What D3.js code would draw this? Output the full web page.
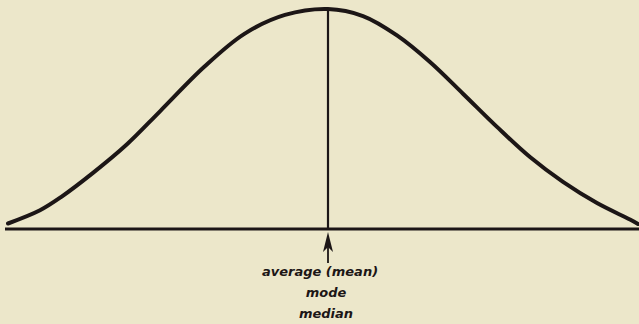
<!DOCTYPE html>
<html>
<head>
<meta charset="utf-8">
<script src="https://cdn.jsdelivr.net/npm/d3@7"></script>
<style>
  html, body { margin: 0; padding: 0; background: #ece7ca; }
  svg { display: block; }
</style>
</head>
<body>
<svg id="chart" width="639" height="324"></svg>
<script>
// Normal (bell-shaped) distribution: position in standard deviations from the mean
const scores  = [-3.20, -2.88, -2.67, -2.35, -2.01, -1.68, -1.24, -0.84, -0.43, 0,
                  0.35,  0.69,  1.02,  1.35,  1.69,  2.02,  2.35,  2.69,  3.02, 3.10];
// Relative frequency, as a percentage of the peak
const heights = [2.5, 8.5, 14.5, 25.5, 38.5, 53.5, 73.6, 88.6, 97.3, 100,
                 96.8, 88.0, 75.9, 61.5, 46.4, 32.7, 21.4, 11.8, 4.3, 2.3];
// Where the mean, mode and median coincide
const centreScore = 0;
const centreLabels = ["average (mean)", "mode", "median"];

const ink = "#1c1616";
const svg = d3.select("#chart");

const x = d3.scaleLinear().domain([-3.2, 3.1]).range([8, 638]);
const y = d3.scaleLinear().domain([0, 100]).range([229, 9]);

const points = scores.map((s, i) => ({ s, h: heights[i] }));

// horizontal axis line
svg.append("line")
  .attr("x1", 5).attr("x2", 639)
  .attr("y1", y(0)).attr("y2", y(0))
  .attr("stroke", ink).attr("stroke-width", 3);

// the bell curve
svg.append("path")
  .datum(points)
  .attr("d", d3.line().x(d => x(d.s)).y(d => y(d.h)).curve(d3.curveCatmullRom.alpha(0.5)))
  .attr("fill", "none")
  .attr("stroke", ink)
  .attr("stroke-width", 4)
  .attr("stroke-linecap", "round");

// centre line from the peak down to the axis
const cx = x(centreScore);
svg.append("line")
  .attr("x1", cx).attr("x2", cx)
  .attr("y1", y(100)).attr("y2", y(0))
  .attr("stroke", ink).attr("stroke-width", 2.2);

// arrow pointing up at the centre
const tip = y(0) + 3;
svg.append("line")
  .attr("x1", cx).attr("x2", cx)
  .attr("y1", tip + 10).attr("y2", tip + 31)
  .attr("stroke", ink).attr("stroke-width", 1.8);
svg.append("path")
  .attr("d", d3.line()([[cx, tip], [cx + 5, tip + 20], [cx, tip + 15], [cx - 5, tip + 20]]) + "Z")
  .attr("fill", ink);

// labels under the arrow
const labelX = [320, 326, 326];
const labelY = [276, 297, 318];
svg.selectAll("text.label")
  .data(centreLabels)
  .join("text")
  .attr("class", "label")
  .attr("x", (d, i) => labelX[i])
  .attr("y", (d, i) => labelY[i])
  .attr("text-anchor", "middle")
  .attr("font-family", "DejaVu Sans")
  .attr("font-weight", "bold")
  .attr("font-style", "italic")
  .attr("font-size", 13)
  .attr("fill", ink)
  .text(d => d);
</script>
</body>
</html>
